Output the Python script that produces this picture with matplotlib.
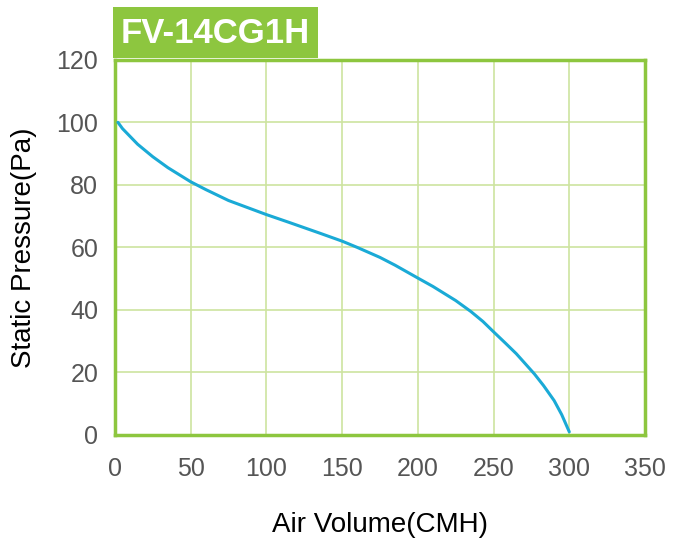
import matplotlib.pyplot as plt
from matplotlib.patches import Rectangle

plt.rcParams['font.family'] = ['Liberation Sans', 'DejaVu Sans']

# P-Q curve
air_volume = [2, 5, 10, 15, 25, 35, 50, 60, 75, 90, 100, 115, 125, 135, 150, 160,
              175, 185, 200, 210, 225, 235, 243, 250, 258, 265, 270, 277, 283, 290, 295, 300]
static_pressure = [100, 98, 95.5, 93, 89, 85.5, 81, 78.5, 75, 72.3, 70.5, 68, 66.3, 64.6, 62, 60,
                   56.8, 54.3, 50.2, 47.5, 43, 39.5, 36.3, 33, 29.3, 26, 23.3, 19.5, 15.8, 11, 6.5, 1]
x_ticks = [0, 50, 100, 150, 200, 250, 300, 350]
y_ticks = [0, 20, 40, 60, 80, 100, 120]
model = 'FV-14CG1H'

GREEN = '#8DC63F'
GRID = '#CDE4A0'
LINE = '#1AAAD6'

fig = plt.figure(figsize=(6.84, 5.39), dpi=100)
ax = fig.add_axes([0.168, 0.193, 0.775, 0.696])

ax.plot(air_volume, static_pressure, color=LINE, linewidth=2.2, zorder=3,
        solid_capstyle='round', solid_joinstyle='round')

ax.set_xlim(0, 350)
ax.set_ylim(0, 120)
ax.set_xticks(x_ticks)
ax.set_yticks(y_ticks)
ax.grid(True, color=GRID, linewidth=1.2)
ax.set_axisbelow(True)
for s in ax.spines.values():
    s.set_color(GREEN)
    s.set_linewidth(2.5)
ax.tick_params(length=0, labelsize=18, colors='#555555')
ax.tick_params(axis='x', pad=16)
ax.tick_params(axis='y', pad=12)

ax.set_xlabel('Air Volume(CMH)', fontsize=20, color='black', labelpad=22)
ax.set_ylabel('Static Pressure(Pa)', fontsize=20, color='black', labelpad=14)

# green model tag above the plot
fig.patches.append(Rectangle((0.165, 0.892), 0.30, 0.095, transform=fig.transFigure,
                             facecolor=GREEN, edgecolor='none'))
fig.text(0.315, 0.938, model, ha='center', va='center', color='white',
         fontsize=25, fontweight='bold')

fig.savefig('out.png', dpi=100)
